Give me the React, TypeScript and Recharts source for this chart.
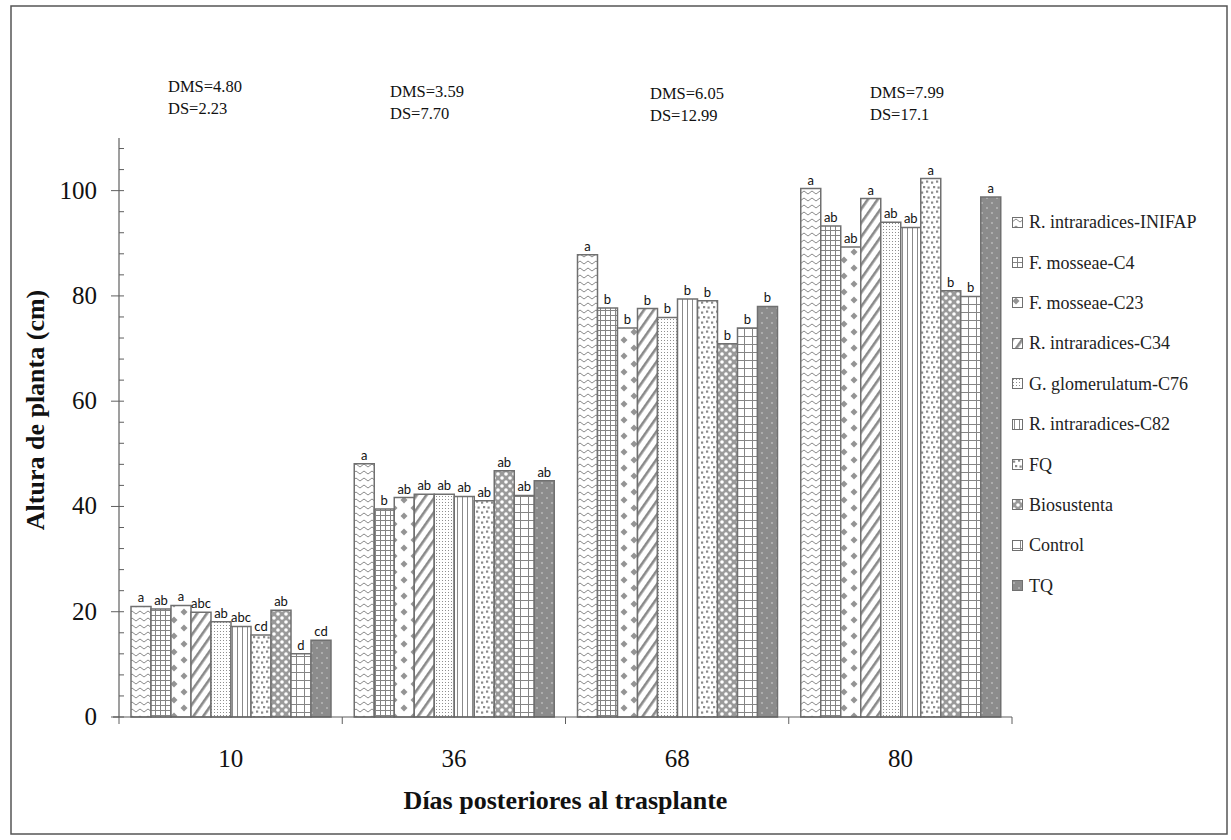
import { BarChart, Bar, XAxis, YAxis, LabelList } from "recharts";

// Plant height (cm) per treatment at each sampling date
const days = ["10", "36", "68", "80"];

const treatments = [
  "R. intraradices-INIFAP",
  "F. mosseae-C4",
  "F. mosseae-C23",
  "R. intraradices-C34",
  "G. glomerulatum-C76",
  "R. intraradices-C82",
  "FQ",
  "Biosustenta",
  "Control",
  "TQ",
];

const rIntraInifap = [21.0, 48.1, 87.8, 100.4];
const fMosseaeC4 = [20.5, 39.5, 77.7, 93.3];
const fMosseaeC23 = [21.2, 41.7, 73.9, 89.3];
const rIntraC34 = [19.9, 42.3, 77.6, 98.5];
const gGlomC76 = [18.1, 42.3, 75.9, 94.0];
const rIntraC82 = [17.2, 41.9, 79.4, 93.0];
const fq = [15.6, 41.1, 79.1, 102.3];
const biosustenta = [20.3, 46.8, 70.9, 81.0];
const control = [12.0, 42.1, 73.9, 79.9];
const tq = [14.6, 44.9, 78.0, 98.8];

const heights = [rIntraInifap, fMosseaeC4, fMosseaeC23, rIntraC34, gGlomC76, rIntraC82, fq, biosustenta, control, tq];

// Tukey groupings printed over each bar
const letters10 = ["a", "ab", "a", "abc", "ab", "abc", "cd", "ab", "d", "cd"];
const letters36 = ["a", "b", "ab", "ab", "ab", "ab", "ab", "ab", "ab", "ab"];
const letters68 = ["a", "b", "b", "b", "b", "b", "b", "b", "b", "b"];
const letters80 = ["a", "ab", "ab", "a", "ab", "ab", "a", "b", "b", "a"];
const groupLetters = [letters10, letters36, letters68, letters80];

const dmsLabels = ["DMS=4.80", "DMS=3.59", "DMS=6.05", "DMS=7.99"];
const dsLabels = ["DS=2.23", "DS=7.70", "DS=12.99", "DS=17.1"];

const yTicks = [0, 4, 8, 12, 16, 20, 24, 28, 32, 36, 40, 44, 48, 52, 56, 60, 64, 68, 72, 76, 80, 84, 88, 92, 96, 100, 104, 108];

const patternIds = ["p-wave", "p-smallgrid", "p-diamond", "p-diag", "p-finedot", "p-vline", "p-speck", "p-bigdot", "p-biggrid", "p-dark"];

const data = days.map((day, i) => {
  const row: Record<string, string | number> = { day };
  heights.forEach((series, s) => {
    row[`s${s}`] = series[i];
    row[`l${s}`] = groupLetters[i][s];
  });
  return row;
});

const W = 1231;
const H = 840;
const LEFT = 119;
const RIGHT = 219;
const TOP = 138;
const BOTTOM = 123;
const band = (W - LEFT - RIGHT) / days.length;

const SERIF = "'Liberation Serif', 'Times New Roman', serif";
const AXIS = "#5f5f5f";
const EDGE = "#707070";

function Patterns() {
  return (
    <svg width={0} height={0} style={{ position: "absolute" }}>
      <defs>
        <pattern id="p-wave" width={8} height={7} patternUnits="userSpaceOnUse">
          <rect width={8} height={7} fill="#fff" />
          <path d="M0 5 L4 2 L8 5" stroke="#8a8a8a" strokeWidth={1} fill="none" />
        </pattern>
        <pattern id="p-smallgrid" width={5} height={5} patternUnits="userSpaceOnUse">
          <rect width={5} height={5} fill="#fff" />
          <path d="M0 0.5 H5 M0.5 0 V5" stroke="#858585" strokeWidth={1} />
        </pattern>
        <pattern id="p-diamond" width={20} height={16} patternUnits="userSpaceOnUse">
          <rect width={20} height={16} fill="#fff" />
          <polygon points="4,0.5 7.5,4 4,7.5 0.5,4" fill="#949494" />
          <polygon points="14,8.5 17.5,12 14,15.5 10.5,12" fill="#949494" />
        </pattern>
        <pattern id="p-diag" width={8} height={8} patternUnits="userSpaceOnUse" patternTransform="rotate(35)">
          <rect width={8} height={8} fill="#fff" />
          <rect width={2.6} height={8} fill="#8a8a8a" />
        </pattern>
        <pattern id="p-finedot" width={3} height={3} patternUnits="userSpaceOnUse">
          <rect width={3} height={3} fill="#fff" />
          <rect x={1} y={1} width={1} height={1} fill="#8f8f8f" />
        </pattern>
        <pattern id="p-vline" width={5} height={5} patternUnits="userSpaceOnUse">
          <rect width={5} height={5} fill="#fff" />
          <line x1={2.5} x2={2.5} y1={0} y2={5} stroke="#8a8a8a" strokeWidth={1} />
        </pattern>
        <pattern id="p-speck" width={10} height={10} patternUnits="userSpaceOnUse">
          <rect width={10} height={10} fill="#fff" />
          <rect x={1} y={1.5} width={2.2} height={2.2} fill="#8a8a8a" />
          <rect x={6} y={0.5} width={2.2} height={2.2} fill="#8a8a8a" />
          <rect x={3} y={6} width={2.2} height={2.2} fill="#8a8a8a" />
          <rect x={7.5} y={6.5} width={2.2} height={2.2} fill="#8a8a8a" />
        </pattern>
        <pattern id="p-bigdot" width={8} height={8} patternUnits="userSpaceOnUse">
          <rect width={8} height={8} fill="#9a9a9a" />
          <circle cx={2} cy={2} r={1.8} fill="#fff" />
          <circle cx={6} cy={6} r={1.8} fill="#fff" />
        </pattern>
        <pattern id="p-biggrid" width={8} height={8} patternUnits="userSpaceOnUse">
          <rect width={8} height={8} fill="#fff" />
          <path d="M0 0.5 H8 M0.5 0 V8" stroke="#858585" strokeWidth={1} />
        </pattern>
        <pattern id="p-dark" width={10} height={10} patternUnits="userSpaceOnUse">
          <rect width={10} height={10} fill="#8c8c8c" />
          <circle cx={2} cy={3} r={0.7} fill="#e8e8e8" />
          <circle cx={7} cy={8} r={0.7} fill="#e8e8e8" />
        </pattern>
      </defs>
    </svg>
  );
}

function YTick(props: any) {
  const { x, y, payload } = props;
  const major = payload.value % 20 === 0;
  return (
    <g>
      <line x1={major ? x - 8 : x} x2={x + 5} y1={y} y2={y} stroke={AXIS} strokeWidth={1} />
      {major && (
        <text x={x - 22} y={y + 8} textAnchor="end" fontSize={25} fontFamily={SERIF} fill="#111">
          {payload.value}
        </text>
      )}
    </g>
  );
}

function XTick(props: any) {
  const { x, y, payload, index } = props;
  const half = band / 2;
  return (
    <g>
      {index === 0 && <line x1={x - half} x2={x - half} y1={y} y2={y + 7} stroke={AXIS} strokeWidth={1} />}
      <line x1={x + half} x2={x + half} y1={y} y2={y + 7} stroke={AXIS} strokeWidth={1} />
      <text x={x} y={y + 50} textAnchor="middle" fontSize={25} fontFamily={SERIF} fill="#111">
        {payload.value}
      </text>
    </g>
  );
}

function Legend() {
  return (
    <div style={{ position: "absolute", left: 1012, top: 202, fontFamily: SERIF, fontSize: 18, color: "#222" }}>
      {treatments.map((name, i) => (
        <div key={name} style={{ height: 40.4, display: "flex", alignItems: "center", whiteSpace: "nowrap" }}>
          <svg width={11} height={11} style={{ marginRight: 6 }}>
            <rect x={0.5} y={0.5} width={10} height={10} fill={`url(#${patternIds[i]})`} stroke={EDGE} strokeWidth={1} />
          </svg>
          <span style={{ lineHeight: "20px" }}>{name}</span>
        </div>
      ))}
    </div>
  );
}

const dmsPos = [
  { x: 168, y: 92 },
  { x: 390, y: 97 },
  { x: 650, y: 99 },
  { x: 870, y: 98 },
];

export default function App() {
  return (
    <div style={{ position: "fixed", left: 0, top: 0, width: W, height: H, background: "#fff" }}>
      <Patterns />
      <BarChart
        width={W}
        height={H}
        data={data}
        margin={{ top: TOP, right: RIGHT, bottom: 0, left: 0 }}
        barCategoryGap={12}
        barGap={0}
      >
        <XAxis
          dataKey="day"
          height={BOTTOM}
          tickLine={false}
          tickSize={0}
          tickMargin={0}
          axisLine={{ stroke: AXIS, strokeWidth: 1.2 }}
          tick={<XTick />}
          interval={0}
        />
        <YAxis
          width={LEFT}
          domain={[0, 110]}
          ticks={yTicks}
          interval={0}
          tickLine={false}
          tickSize={0}
          tickMargin={0}
          axisLine={{ stroke: AXIS, strokeWidth: 1.2 }}
          tick={<YTick />}
        />
        {treatments.map((name, s) => (
          <Bar
            key={name}
            dataKey={`s${s}`}
            name={name}
            fill={`url(#${patternIds[s]})`}
            stroke={EDGE}
            strokeWidth={1.5}
            isAnimationActive={false}
          >
            <LabelList
              dataKey={`l${s}`}
              position="top"
              offset={4}
              fontSize={13}
              fontFamily="Lato, 'Liberation Sans', sans-serif"
              fill="#111"
            />
          </Bar>
        ))}
      </BarChart>
      <Legend />
      <svg width={W} height={H} style={{ position: "absolute", left: 0, top: 0, pointerEvents: "none" }}>
        <rect x={11} y={6} width={1216} height={828} fill="none" stroke="#555" strokeWidth={1.5} />
        {/* short stub of the category axis left of the value axis */}
        <line x1={113} x2={LEFT} y1={H - BOTTOM} y2={H - BOTTOM} stroke={AXIS} strokeWidth={1.2} />
        {dmsLabels.map((t, i) => (
          <g key={t} fontFamily={SERIF} fontSize={16.5} fill="#111">
            <text x={dmsPos[i].x} y={dmsPos[i].y}>{t}</text>
            <text x={dmsPos[i].x} y={dmsPos[i].y + 22}>{dsLabels[i]}</text>
          </g>
        ))}
        <text
          x={(LEFT + W - RIGHT) / 2}
          y={809}
          textAnchor="middle"
          fontFamily={SERIF}
          fontWeight="bold"
          fontSize={26}
          fill="#111"
        >
          Días posteriores al trasplante
        </text>
        <text
          transform="translate(44, 410) rotate(-90)"
          textAnchor="middle"
          fontFamily={SERIF}
          fontWeight="bold"
          fontSize={26}
          fill="#111"
        >
          Altura de planta (cm)
        </text>
      </svg>
    </div>
  );
}
